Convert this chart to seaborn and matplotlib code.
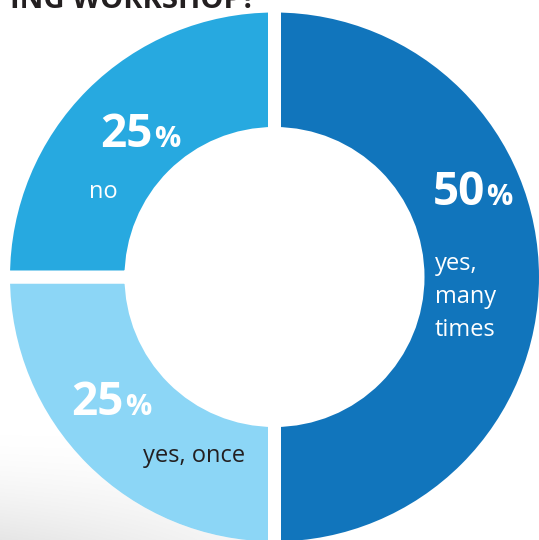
import numpy as np
import matplotlib
matplotlib.use("Agg")
import matplotlib.pyplot as plt
import seaborn as sns

# Survey answers and their shares (percent)
answers = ["yes, many times", "yes, once", "no"]
shares = [50, 25, 25]
answer_labels = ["yes,\nmany\ntimes", "yes, once", "no"]
title_tail = "ING WORKSHOP?"

sns.set_theme(style="white")
plt.rcParams["font.family"] = ["Open Sans", "DejaVu Sans"]

palette = sns.color_palette(["#1175BC", "#8CD6F6", "#27A9E0"])

W, H = 539, 540
fig = plt.figure(figsize=(W / 100, H / 100), dpi=100)
ax = fig.add_axes([0, 0, 1, 1])

# donut geometry (pixel units); a thick white outline opens the gaps
cx, cy_top = 274.5, 277
R, ring = 271, 127.5
gap_px = 13
visible_R = R - gap_px / 2

wedges, _ = ax.pie(
    shares, colors=palette, startangle=90, counterclock=False,
    radius=R, center=(cx, H - cy_top), frame=True,
    wedgeprops=dict(width=ring, linewidth=gap_px * 72 / 100,
                    edgecolor="white", zorder=2),
)

# soft grey haze in the lower-left corner, kept outside the ring
yy, xx = np.mgrid[0:H, 0:W] + 0.5
fade_y = np.clip((yy - 430) / 110.0, 0, 1) ** 1.6
fade_x = np.clip(1 - xx / 330.0, 0, 1) ** 0.8
dist = np.hypot(xx - cx, yy - cy_top)
outside = np.clip(dist - visible_R + 0.5, 0, 1)
haze = np.zeros((H, W, 4))
haze[..., :3] = 0.80
haze[..., 3] = 0.5 * fade_y * fade_x * outside
ax.imshow(haze, extent=(0, W, 0, H), origin="upper", zorder=3,
          interpolation="nearest")

# percentage + answer text for each slice
pct_pos = [(485, H - 205), (124, H - 415), (153, H - 147)]
txt_col = ["white", "#231F20", "white"]
for i, share in enumerate(shares):
    px, py = pct_pos[i]
    ax.text(px, py, f"{share}", ha="right", va="baseline", color="white",
            fontsize=33, fontweight="bold", zorder=5)
    ax.text(px + 1, py, "%", ha="left", va="baseline", color="white",
            fontsize=21, fontweight="bold", zorder=5)

ax.text(435, H - 252, answer_labels[0], ha="left", va="top", color=txt_col[0],
        fontsize=17, linespacing=1.49, zorder=5)
ax.text(143, H - 462, answer_labels[1], ha="left", va="baseline",
        color=txt_col[1], fontsize=17, zorder=5)
ax.text(89, H - 198, answer_labels[2], ha="left", va="baseline",
        color=txt_col[2], fontsize=17, zorder=5)

# heading, mostly above the top edge
ax.text(256, H - 8, title_tail, ha="right", va="baseline", color="#231F20",
        fontsize=21, fontweight="bold", zorder=5)

ax.set_xlim(0, W)
ax.set_ylim(0, H)
ax.set_aspect("equal")
ax.axis("off")
fig.savefig("out.png", dpi=100, facecolor="white")
